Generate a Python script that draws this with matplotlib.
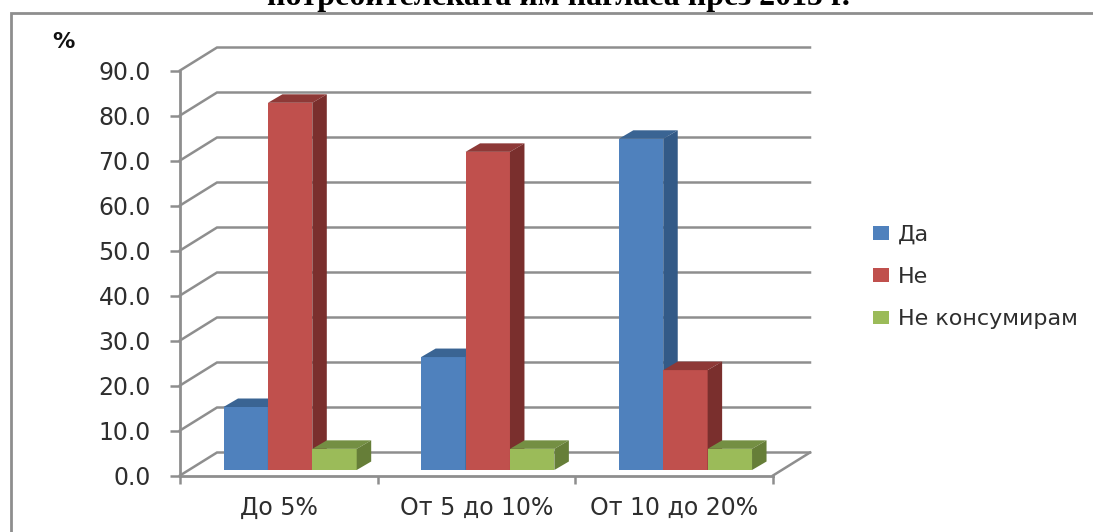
#coding=UTF-8
import numpy as np
import matplotlib
matplotlib.use('Agg')
import matplotlib.pyplot as plt
from matplotlib.patches import Polygon
from matplotlib.lines import Line2D

title = 'потребителската им нагласа през 2015 г.'
categories = ['До 5%', 'От 5 до 10%', 'От 10 до 20%']
series_names = ['Да', 'Не', 'Не консумирам']
da = [14.0, 25.1, 73.6]
ne = [81.6, 70.7, 22.2]
ne_kons = [4.7, 4.7, 4.7]
y_ticks = [0, 10, 20, 30, 40, 50, 60, 70, 80, 90]

front_colors = ['#4F81BD', '#C0504D', '#9BBB59']
top_colors = ['#3A6493', '#8E3937', '#748F43']
side_colors = ['#335A87', '#7A2F2D', '#667E38']
gray = '#8E8E8E'
text_col = '#2E2E2E'

W, H = 1093, 532
fig = plt.figure(figsize=(W / 100, H / 100), dpi=100)
# plot rectangle in pixels of the picture
left, right, bottom, top = 180, 773, 475.5, 70.5
ax = fig.add_axes([left / W, 1 - bottom / H, (right - left) / W, (bottom - top) / H])
ax.set_xlim(0, 3)
ax.set_ylim(0, 90)
ax.patch.set_alpha(0)
sx = (right - left) / 3.0     # px per category
sy = (bottom - top) / 90.0    # px per value unit

# depth of the fake 3D wall and of the bars
wall_dx, wall_dy = 37 / sx, 23 / sy
bar_dx, bar_dy = 14.5 / sx, 8.5 / sy
base = 5.5 / sy
bar_w = 44.4 / sx
first = 43.5 / sx

for v in y_ticks:
    xs = [0, wall_dx, 3 + wall_dx]
    ys = [v, v + wall_dy, v + wall_dy]
    ax.plot(xs, ys, color=gray, lw=1.8, clip_on=False, zorder=1, solid_joinstyle='miter')
ax.plot([3, 3 + wall_dx], [0, wall_dy], color=gray, lw=1.8, clip_on=False, zorder=1)

z = 3
all_vals = [da, ne, ne_kons]
handles = []
for c in range(3):
    for s in range(3):
        x0 = c + first + s * bar_w
        x1 = x0 + bar_w
        v = all_vals[s][c]
        b = ax.bar(x0, v, bar_w, bottom=base, align='edge', color=front_colors[s],
                   zorder=z, clip_on=False)
        y1 = base + v
        ax.add_patch(Polygon([[x0, y1], [x1, y1], [x1 + bar_dx, y1 + bar_dy], [x0 + bar_dx, y1 + bar_dy]],
                             closed=True, fc=top_colors[s], ec='none', zorder=z, clip_on=False))
        ax.add_patch(Polygon([[x1, base], [x1, y1], [x1 + bar_dx, y1 + bar_dy], [x1 + bar_dx, base + bar_dy]],
                             closed=True, fc=side_colors[s], ec='none', zorder=z, clip_on=False))
        if c == 0:
            handles.append(b[0])
        z += 1

for name in ['top', 'right']:
    ax.spines[name].set_visible(False)
for name in ['left', 'bottom']:
    ax.spines[name].set_color(gray)
    ax.spines[name].set_linewidth(2)
    ax.spines[name].set_zorder(2)

ax.set_yticks(y_ticks)
ax.set_yticklabels(['%.1f' % v for v in y_ticks], fontsize=17, color=text_col)
ax.tick_params(axis='y', length=7, width=1.8, color=gray, pad=14)
ax.set_xticks([0, 1, 2, 3])
ax.set_xticklabels([])
ax.tick_params(axis='x', which='major', length=5.5, width=1.8, color=gray)
ax.set_xticks([0.5, 1.5, 2.5], minor=True)
ax.set_xticklabels(categories, minor=True, fontsize=17, color=text_col)
ax.tick_params(axis='x', which='minor', length=0, pad=15)

fig.text(52 / W, 1 - 48 / H, '%', fontsize=16, fontweight='bold', color='#111111')
fig.text(558 / W, 1 - 5 / H, title, fontsize=23, fontweight='bold',
         family='Liberation Serif', ha='center', va='baseline', color='black')

# outer chart frame, cut off by the picture on the right and bottom
fig.add_artist(Line2D([10.5 / W, 10.5 / W, 1], [0, 1 - 13 / H, 1 - 13 / H], color=gray, lw=2,
                      solid_joinstyle='miter'))

leg = fig.legend(handles, series_names, loc='upper left', bbox_to_anchor=(866 / W, 1 - 218 / H),
                 frameon=False, fontsize=16, handlelength=0.72, handleheight=0.55,
                 handletextpad=0.4, labelspacing=1.0, labelcolor=text_col, borderpad=0.3,
                 borderaxespad=0)

fig.savefig('out.png', dpi=100)
